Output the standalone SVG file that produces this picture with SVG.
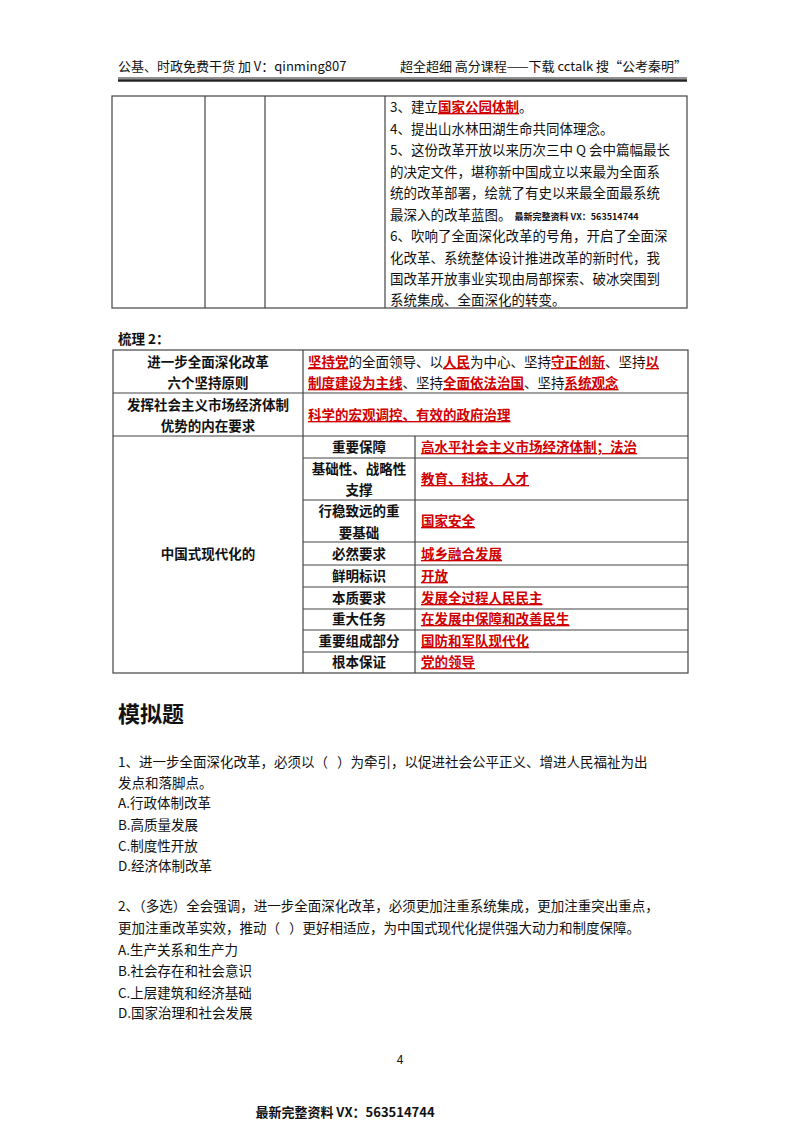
<svg xmlns="http://www.w3.org/2000/svg" width="800" height="1132" viewBox="0 0 800 1132">
<style>
text{font-family:"Noto Sans CJK SC","Liberation Sans",sans-serif;font-size:13.5px;fill:#111}
.r{fill:#d00000;text-decoration:underline;font-weight:bold}
.b{font-weight:bold}
.c{text-anchor:middle}
line,rect{stroke:#444;stroke-width:1.2;fill:none}
</style>
<rect x="0" y="0" width="800" height="1132" style="fill:#fff;stroke:none"/>
<g id="header">
<text x="118" y="71" style="font-size:13px">公基、时政免费干货 加 V：qinming807</text>
<text x="687" y="71" style="font-size:13px" text-anchor="end">超全超细 高分课程——下载 cctalk 搜“公考秦明”</text>
<line x1="118" y1="78" x2="687" y2="78" style="stroke:#222;stroke-width:1"/>
<line x1="118" y1="80.5" x2="687" y2="80.5" style="stroke:#222;stroke-width:2.5"/>
</g>
<g id="table1">
<rect x="112" y="96" width="575" height="212"/>
<line x1="205" y1="96" x2="205" y2="308"/><line x1="265" y1="96" x2="265" y2="308"/><line x1="385" y1="96" x2="385" y2="308"/>
<text x="390" y="112">3、建立<tspan class="r">国家公园体制</tspan>。</text>
<text x="390" y="134">4、提出山水林田湖生命共同体理念。</text>
<text x="390" y="155">5、这份改革开放以来历次三中 Q 会中篇幅最长</text>
<text x="390" y="177">的决定文件，堪称新中国成立以来最为全面系</text>
<text x="390" y="198">统的改革部署，绘就了有史以来最全面最系统</text>
<text x="390" y="220">最深入的改革蓝图。 <tspan style="font-size:9px;font-weight:bold">最新完整资料 VX：563514744</tspan></text>
<text x="390" y="241">6、吹响了全面深化改革的号角，开启了全面深</text>
<text x="390" y="263">化改革、系统整体设计推进改革的新时代，我</text>
<text x="390" y="284">国改革开放事业实现由局部探索、破冰突围到</text>
<text x="390" y="305">系统集成、全面深化的转变。</text>
</g>
<text x="118" y="344" class="b">梳理 2：</text>
<g id="table2">
<rect x="113" y="350" width="575" height="323"/>
<line x1="303" y1="350" x2="303" y2="673"/>
<line x1="113" y1="393" x2="688" y2="393"/><line x1="113" y1="436" x2="688" y2="436"/>
<line x1="415" y1="436" x2="415" y2="673"/>
<line x1="303" y1="458" x2="688" y2="458"/><line x1="303" y1="500" x2="688" y2="500"/>
<line x1="303" y1="542" x2="688" y2="542"/><line x1="303" y1="565" x2="688" y2="565"/>
<line x1="303" y1="587" x2="688" y2="587"/><line x1="303" y1="609" x2="688" y2="609"/>
<line x1="303" y1="630" x2="688" y2="630"/><line x1="303" y1="652" x2="688" y2="652"/>
<text x="208" y="367" class="b c">进一步全面深化改革</text>
<text x="208" y="388" class="b c">六个坚持原则</text>
<text x="308" y="367"><tspan class="r">坚持党</tspan>的全面领导、以<tspan class="r">人民</tspan>为中心、坚持<tspan class="r">守正创新</tspan>、坚持<tspan class="r">以</tspan></text>
<text x="308" y="388"><tspan class="r">制度建设为主线</tspan>、坚持<tspan class="r">全面依法治国</tspan>、坚持<tspan class="r">系统观念</tspan></text>
<text x="208" y="410" class="b c">发挥社会主义市场经济体制</text>
<text x="208" y="431" class="b c">优势的内在要求</text>
<text x="308" y="420" class="r">科学的宏观调控、有效的政府治理</text>
<text x="208" y="559" class="b c">中国式现代化的</text>
<text x="359" y="452" class="b c">重要保障</text>
<text x="359" y="474" class="b c">基础性、战略性</text>
<text x="359" y="495" class="b c">支撑</text>
<text x="359" y="516" class="b c">行稳致远的重</text>
<text x="359" y="538" class="b c">要基础</text>
<text x="359" y="559" class="b c">必然要求</text>
<text x="359" y="581" class="b c">鲜明标识</text>
<text x="359" y="603" class="b c">本质要求</text>
<text x="359" y="624" class="b c">重大任务</text>
<text x="359" y="646" class="b c">重要组成部分</text>
<text x="359" y="667" class="b c">根本保证</text>
<text x="421" y="452" class="r">高水平社会主义市场经济体制；法治</text>
<text x="421" y="484" class="r">教育、科技、人才</text>
<text x="421" y="526" class="r">国家安全</text>
<text x="421" y="559" class="r">城乡融合发展</text>
<text x="421" y="581" class="r">开放</text>
<text x="421" y="603" class="r">发展全过程人民民主</text>
<text x="421" y="624" class="r">在发展中保障和改善民生</text>
<text x="421" y="646" class="r">国防和军队现代化</text>
<text x="421" y="667" class="r">党的领导</text>
</g>
<g id="questions">
<text x="118" y="722" class="b" style="font-size:22px">模拟题</text>
<text x="118" y="767" xml:space="preserve">1、进一步全面深化改革，必须以（   ）为牵引，以促进社会公平正义、增进人民福祉为出</text>
<text x="118" y="788">发点和落脚点。</text>
<text x="118" y="808">A.行政体制改革</text>
<text x="118" y="830">B.高质量发展</text>
<text x="118" y="851">C.制度性开放</text>
<text x="118" y="871">D.经济体制改革</text>
<text x="118" y="911">2、（多选）全会强调，进一步全面深化改革，必须更加注重系统集成，更加注重突出重点，</text>
<text x="118" y="933" xml:space="preserve">更加注重改革实效，推动（   ）更好相适应，为中国式现代化提供强大动力和制度保障。</text>
<text x="118" y="955">A.生产关系和生产力</text>
<text x="118" y="976">B.社会存在和社会意识</text>
<text x="118" y="998">C.上层建筑和经济基础</text>
<text x="118" y="1018">D.国家治理和社会发展</text>
</g>
<text x="400" y="1064" class="c" style="font-size:12px">4</text>
<text x="345" y="1117" class="b c" style="font-size:13px">最新完整资料 VX：563514744</text>
</svg>
